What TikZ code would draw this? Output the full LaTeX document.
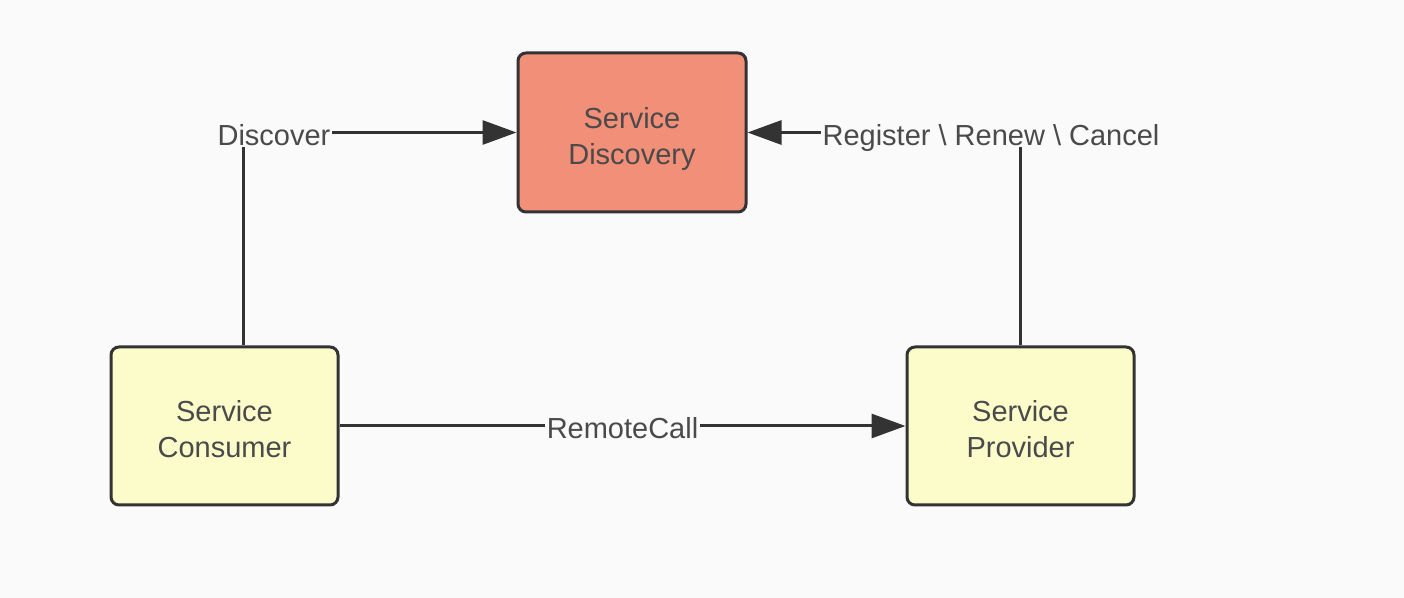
\documentclass[tikz,border=0pt]{standalone}
\usepackage{fontspec}
\setmainfont{Liberation Sans}
\usetikzlibrary{arrows.meta,positioning}

\definecolor{bgcolor}{HTML}{FAFAFA}
\definecolor{discfill}{HTML}{F18F78}
\definecolor{svcfill}{HTML}{FCFBCA}
\definecolor{edgecolor}{HTML}{333333}
\definecolor{txtcolor}{HTML}{4A4A4A}

% struts that push the two box lines a little below the middle
\newcommand{\upstrut}{\rule{0pt}{17pt}}
\newcommand{\downstrut}{\rule[-3.1pt]{0pt}{3.1pt}}

\tikzset{
	svcbox/.style={draw=edgecolor, line width=1.5pt, rounded corners=4pt,
		fill=svcfill, minimum width=113.5pt, minimum height=79pt,
		align=center, text=txtcolor, font=\fontsize{14.5}{18}\selectfont},
	link/.style={draw=edgecolor, line width=1.5pt,
		-{Triangle[length=17pt,width=12pt]}},
	linklabel/.style={fill=bgcolor, text=txtcolor, inner sep=1pt,
		text height=10.5pt, text depth=0pt,
		font=\fontsize{14.5}{18}\selectfont},
}

\begin{document}
\begin{tikzpicture}[x=1pt,y=1pt]
	\fill[bgcolor] (0,0) rectangle (702,-299);
	\useasboundingbox (0,0) rectangle (702,-299);

	\node[svcbox, fill=discfill, minimum width=114pt, minimum height=79.5pt] (discovery) at (316,-66.25) {\upstrut Service\\Discovery\downstrut};
	\node[svcbox] (consumer) at (112.25,-213) {\upstrut Service\\Consumer\downstrut};
	\node[svcbox, right=283pt of consumer] (provider) {\upstrut Service\\Provider\downstrut};

	% the consumer line leaves its box off centre
	\coordinate (dcorner) at (121.5,-66.25);

	\draw[link] (dcorner |- consumer.north) |- (discovery.west);
	\draw[link] (provider.north) |- (discovery.east);
	\draw[link] (consumer.east) -- (provider.west)
		node[linklabel, midway, yshift=-1pt] (remote) {RemoteCall};

	\node[linklabel] (discover) at (137,-67.5) {Discover};
	\node[linklabel] (register) at (495.5,-67.5) {Register \textbackslash{} Renew \textbackslash{} Cancel};
\end{tikzpicture}
\end{document}
